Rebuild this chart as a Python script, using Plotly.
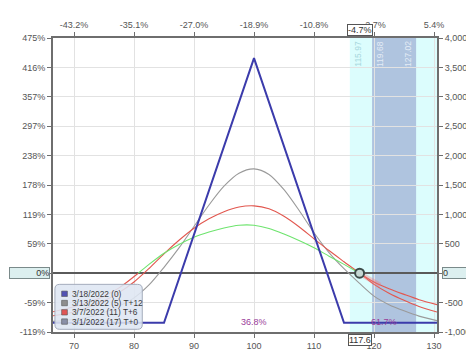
import plotly.graph_objects as go

# ---------------- data ----------------
expiry_prices = [66.5, 85, 100, 115, 130.5]
expiry_pl = [-842, -842, 3658, -842, -842]

t12_prices = [66.5, 70, 72.5, 75, 77.5, 80, 82.5, 85, 87.5, 90, 92.5, 95, 97.5, 100, 102.5, 105, 107.5, 110, 112.5, 115, 117.5, 120, 122.5, 125, 127.5, 130.5]
t12_pl = [-820, -790, -745, -670, -560, -420, -200, 100, 430, 795, 1160, 1480, 1700, 1774, 1680, 1420, 1070, 688, 350, 76, -165, -390, -535, -640, -730, -806]

t6_prices = [66.5, 70, 72.5, 75, 77.5, 80, 82.5, 85, 87.5, 90, 92.5, 95, 97.5, 100, 102.5, 105, 107.5, 110, 112.5, 115, 117.6, 120, 122.5, 125, 127.5, 130.5]
t6_pl = [-725, -660, -575, -470, -330, -150, 80, 330, 560, 765, 925, 1045, 1125, 1145, 1095, 968, 790, 586, 385, 195, 0, -190, -340, -460, -565, -660]

t0_prices = [66.5, 70, 72.5, 75, 77.5, 80.7, 82.5, 85, 87.5, 90, 92.5, 95, 97.5, 100, 102.5, 105, 107.5, 110, 112.5, 115, 117.6, 120, 122.5, 125, 127.5, 130.5]
t0_pl = [-655, -570, -490, -390, -250, 0, 150, 340, 490, 612, 700, 770, 815, 815, 760, 665, 555, 433, 290, 150, 0, -150, -265, -360, -450, -535]

hl_prices = [118.3, 121.0]
hl_pl = [-45, -205]

current_price = 117.6
current_change = "-4.7%"
sd1_low, sd1_high = 115.97, 130.5
band_low, band_high = 119.68, 127.02
band_labels = ["115.97", "119.68", "127.02"]
prob_labels = ["36.8%", "61.7%"]
prob_x = [100, 121.7]
prob_y = [-826, -826]

y_ticks = [-1000, -500, 0, 500, 1000, 1500, 2000, 2500, 3000, 3500, 4000]
left_labels = ["-119%", "-59%", "", "59%", "119%", "178%", "238%", "297%", "357%", "416%", "475%"]
right_labels = ["-1,000", "-500", "", "500", "1,000", "1,500", "2,000", "2,500", "3,000", "3,500", "4,000"]
x_ticks = [70, 80, 90, 100, 110, 120, 130]
bottom_labels = ["70", "80", "90", "100", "110", "120", "130"]
top_labels = ["-43.2%", "-35.1%", "-27.0%", "-18.9%", "-10.8%", "-2.7%", "5.4%"]

legend_names = ["3/18/2022 (0)", "3/13/2022 (5) T+12", "3/7/2022 (11) T+6", "3/1/2022 (17) T+0"]
legend_colors = ["#5252b4", "#8e8e8e", "#e05555", "#8a90a8"]

# ---------------- figure ----------------
W, H = 474, 355
ML, MR, MT, MB = 40, 34, 13, 15
PW, PH = W - ML - MR, H - MT - MB
XR = [66.5, 130.5]
YR = [-1000, 4000]
FONT = "Arial, Liberation Sans, sans-serif"

BLUE = "#3b3bab"
GRAY = "#9a9a9a"
RED = "#e2574f"
GREEN = "#6ee46e"
SPL = dict(shape="spline", smoothing=0.8)

fig = go.Figure()

fig.add_trace(go.Scatter(x=t12_prices, y=t12_pl, mode="lines", line=dict(color=GRAY, width=1.1, **SPL), showlegend=False, hoverinfo="skip"))
fig.add_trace(go.Scatter(x=t6_prices, y=t6_pl, mode="lines", line=dict(color=RED, width=1.1, **SPL), showlegend=False, hoverinfo="skip"))

# T+0 : green where profitable, red where in loss
first_zero = t0_pl.index(0)
last_zero = len(t0_pl) - 1 - t0_pl[::-1].index(0)
segments = [
    (t0_prices[:first_zero + 1], t0_pl[:first_zero + 1], RED),
    (t0_prices[first_zero:last_zero + 1], t0_pl[first_zero:last_zero + 1], GREEN),
    (t0_prices[last_zero:], t0_pl[last_zero:], RED),
]
for xs, ys, c in segments:
    fig.add_trace(go.Scatter(x=xs, y=ys, mode="lines", line=dict(color=c, width=1.1, **SPL), showlegend=False, hoverinfo="skip"))

# highlight near current price
fig.add_trace(go.Scatter(x=hl_prices, y=hl_pl, mode="lines", line=dict(color="rgba(240,120,120,0.35)", width=5), showlegend=False, hoverinfo="skip"))

# expiration
fig.add_trace(go.Scatter(x=expiry_prices, y=expiry_pl, mode="lines", line=dict(color=BLUE, width=2), showlegend=False, hoverinfo="skip"))

# current price marker
fig.add_trace(go.Scatter(x=[current_price], y=[0], mode="markers", marker=dict(size=9, color="#c5d8d4", line=dict(color="#3c4a48", width=2)), showlegend=False, hoverinfo="skip"))

# dummy trace for the secondary axes
fig.add_trace(go.Scatter(x=XR, y=YR, xaxis="x2", yaxis="y2", mode="lines", line=dict(width=0, color="rgba(0,0,0,0)"), showlegend=False, hoverinfo="skip"))

shapes = [
    dict(type="rect", xref="x", yref="paper", x0=sd1_low, x1=sd1_high, y0=0, y1=1, fillcolor="#dcfdfd", line=dict(width=0), layer="below"),
    dict(type="rect", xref="x", yref="paper", x0=band_low, x1=band_high, y0=0, y1=1, fillcolor="#afc4df", line=dict(width=0), layer="below"),
]

def px2paper_x(px):
    return (px - ML) / PW

def py2paper_y(py):
    return (H - MB - py) / PH

# custom legend box
lx0, lx1, ly0, ly1 = 42, 133, 287, 337
r = 5
x0p, x1p = px2paper_x(lx0), px2paper_x(lx1)
y0p, y1p = py2paper_y(ly1), py2paper_y(ly0)
rx, ry = r / PW, r / PH
path = (f"M {x0p+rx},{y1p} L {x1p-rx},{y1p} Q {x1p},{y1p} {x1p},{y1p-ry} "
        f"L {x1p},{y0p+ry} Q {x1p},{y0p} {x1p-rx},{y0p} L {x0p+rx},{y0p} "
        f"Q {x0p},{y0p} {x0p},{y0p+ry} L {x0p},{y1p-ry} Q {x0p},{y1p} {x0p+rx},{y1p} Z")
shapes.append(dict(type="path", xref="paper", yref="paper", path=path, fillcolor="rgba(222,230,242,0.88)", line=dict(color="#a4acbc", width=1), layer="above"))

annotations = []
for i, (name, col) in enumerate(zip(legend_names, legend_colors)):
    cy = 297.5 + i * 10.3
    shapes.append(dict(type="rect", xref="paper", yref="paper", x0=px2paper_x(49), x1=px2paper_x(55), y0=py2paper_y(cy + 3), y1=py2paper_y(cy - 3), fillcolor=col, line=dict(color="#555", width=0.6), layer="above"))
    annotations.append(dict(x=px2paper_x(57.5), y=py2paper_y(cy), xref="paper", yref="paper", text=name, showarrow=False, xanchor="left", yanchor="middle", font=dict(family=FONT, size=8.3, color="#3a3a3a")))

# vertical band labels
for xv, txt, col, xa in zip([sd1_low, band_low, band_high], band_labels, ["#a6d6dc", "#e4ecf6", "#e4ecf6"], ["left", "left", "right"]):
    annotations.append(dict(x=xv, y=py2paper_y(14), xref="x", yref="paper", text=txt, textangle=-90, showarrow=False, xanchor=xa, yanchor="top", xshift=1 if xa == "left" else -1, font=dict(family=FONT, size=8.5, color=col)))

# probability labels
for xv, yv, txt in zip(prob_x, prob_y, prob_labels):
    annotations.append(dict(x=xv, y=yv, xref="x", yref="y", text=txt, showarrow=False, font=dict(family=FONT, size=9, color="#9a3c9a")))

# boxed highlight labels
box_font = dict(family=FONT, size=9, color="#333")
hs = "&#8202;"
annotations.append(dict(x=current_price, y=1, xref="x", yref="paper", text=current_change, showarrow=False, yanchor="bottom", yshift=2, bgcolor="white", bordercolor="#555", borderwidth=1, borderpad=0, font=box_font))
annotations.append(dict(x=current_price, y=0, xref="x", yref="paper", text=str(current_price), showarrow=False, yanchor="top", yshift=-2, bgcolor="white", bordercolor="#555", borderwidth=1, borderpad=0, font=box_font))
annotations.append(dict(x=px2paper_x(37), y=0, xref="paper", yref="y", text=hs * 35 + "0%", showarrow=False, xanchor="right", align="right", bgcolor="#dcefef", bordercolor="#7a8a8a", borderwidth=1, borderpad=0, font=box_font))
annotations.append(dict(x=px2paper_x(445), y=0, xref="paper", yref="y", text="0" + hs * 31, showarrow=False, xanchor="left", align="left", bgcolor="#dcefef", bordercolor="#7a8a8a", borderwidth=1, borderpad=0, font=box_font))

tickfont = dict(family=FONT, size=9, color="#555")
axis_common = dict(showline=True, linecolor="#6e6e6e", linewidth=2, ticks="outside", ticklen=4, tickcolor="#6e6e6e", tickfont=tickfont)

fig.update_layout(
    width=W, height=H,
    margin=dict(l=ML, r=MR, t=MT, b=MB, pad=0),
    paper_bgcolor="white", plot_bgcolor="white",
    shapes=shapes, annotations=annotations,
    showlegend=False,
    xaxis=dict(range=XR, tickvals=x_ticks, ticktext=bottom_labels, showgrid=True, gridcolor="#e2e2e2", gridwidth=1, zeroline=False, **axis_common),
    yaxis=dict(range=YR, tickvals=y_ticks, ticktext=left_labels, showgrid=True, gridcolor="#e2e2e2", gridwidth=1,
               zeroline=True, zerolinecolor="#5a5a5a", zerolinewidth=2, side="left", **axis_common),
    xaxis2=dict(range=XR, tickvals=x_ticks, ticktext=top_labels, overlaying="x", side="top", anchor="y2", showgrid=False, zeroline=False, **axis_common),
    yaxis2=dict(range=YR, tickvals=y_ticks, ticktext=right_labels, overlaying="y", side="right", anchor="x2", showgrid=False, zeroline=False, **axis_common),
)

fig.write_html("out.html")
